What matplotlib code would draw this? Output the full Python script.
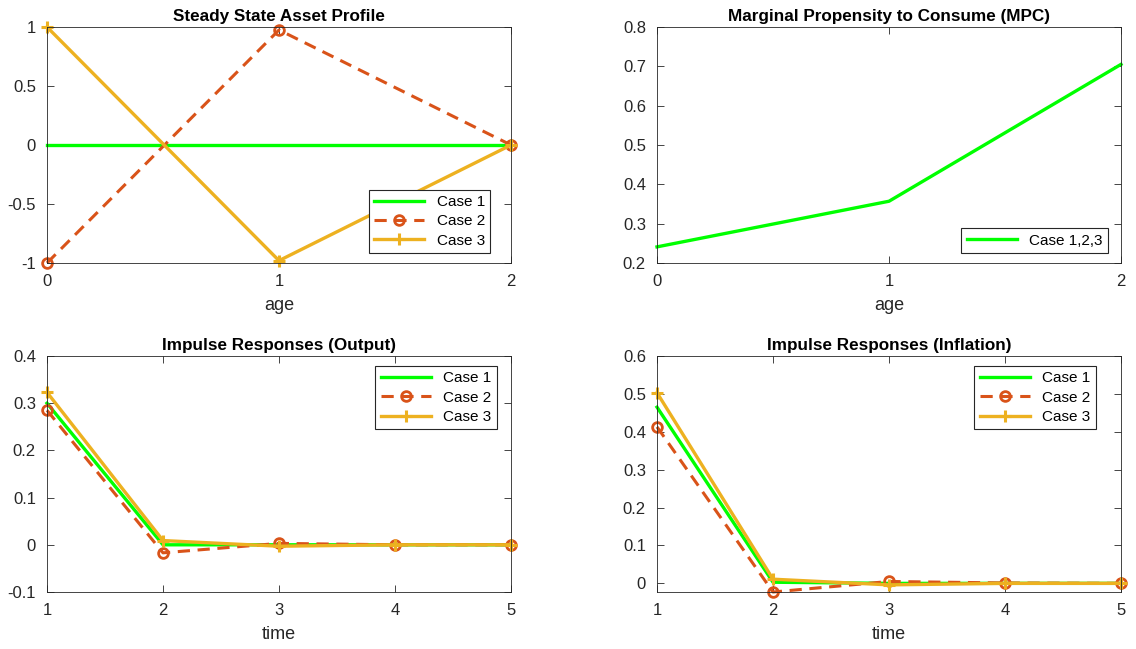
import matplotlib
matplotlib.use("Agg")
import matplotlib.pyplot as plt
import numpy as np

plt.rcParams['font.family'] = ['Liberation Sans', 'DejaVu Sans']

# ---------- DATA ----------
age = [0, 1, 2]
asset_case1 = [0.0, 0.0, 0.0]
asset_case2 = [-1.0, 0.975, 0.0]
asset_case3 = [1.0, -0.98, 0.0]

mpc = [0.241, 0.357, 0.705]

time = [1, 2, 3, 4, 5]
irf_y_case1 = [0.300, 0.000, 0.000, 0.000, 0.000]
irf_y_case2 = [0.285, -0.017, 0.003, 0.000, 0.000]
irf_y_case3 = [0.323, 0.009, -0.003, 0.000, 0.000]

irf_pi_case1 = [0.465, 0.003, 0.000, 0.000, 0.000]
irf_pi_case2 = [0.413, -0.0228, 0.005, 0.001, 0.000]
irf_pi_case3 = [0.503, 0.011, -0.004, 0.000, 0.000]

GREEN = "#00ff00"
ORANGE = "#d95319"
YELLOW = "#edb120"
AXCOL = "#262626"

W, H = 1136, 649
fig = plt.figure(figsize=(W / 100, H / 100), dpi=100)


def make_axes(x0, y0, x1, y1):
    # pixel box -> figure fraction
    return fig.add_axes([x0 / W, 1 - y1 / H, (x1 - x0) / W, (y1 - y0) / H])


def style(ax, title, xlabel=None):
    ax.set_title(title, fontsize=12.3, fontweight="bold", pad=4)
    if xlabel:
        ax.set_xlabel(xlabel, fontsize=13, color=AXCOL, labelpad=6)
    ax.tick_params(direction="in", top=True, right=True, length=5, width=0.6,
                   labelsize=12, colors=AXCOL, pad=8)
    for s in ax.spines.values():
        s.set_color(AXCOL)
        s.set_linewidth(0.6)


def legend(ax, labels_loc, anchor):
    leg = ax.legend(loc=labels_loc, bbox_to_anchor=anchor, borderaxespad=0,
                    fontsize=11, fancybox=False, framealpha=1,
                    edgecolor=AXCOL, handlelength=3.3, handletextpad=0.8,
                    labelspacing=0.35, borderpad=0.35)
    leg.get_frame().set_linewidth(0.8)


def three_cases(ax, x, c1, c2, c3, lbl1="Case 1"):
    ax.plot(x, c1, color=GREEN, lw=2.4, label=lbl1)
    ax.plot(x, c2, color=ORANGE, lw=2.2, ls=(0, (4, 2.5)), marker="o",
            ms=7, mfc="none", mew=2, label="Case 2")
    ax.plot(x, c3, color=YELLOW, lw=2.4, marker="+", ms=9, mew=2.2,
            label="Case 3")


# ---------- STEADY STATE ASSETS ----------
ax1 = make_axes(47, 27, 511, 263)
three_cases(ax1, age, asset_case1, asset_case2, asset_case3)
ax1.set_xlim(0, 2)
ax1.set_ylim(-1, 1)
ax1.set_xticks([0, 1, 2])
ax1.set_yticks([-1, -0.5, 0, 0.5, 1])
ax1.set_yticklabels(["-1", "-0.5", "0", "0.5", "1"])
style(ax1, "Steady State Asset Profile", "age")
legend(ax1, "lower right", (0.955, 0.042))

# ---------- MPC ----------
ax2 = make_axes(657, 27, 1121, 263)
ax2.plot(age, mpc, color=GREEN, lw=2.4, label="Case 1,2,3")
ax2.set_xlim(0, 2)
ax2.set_ylim(0.2, 0.8)
ax2.set_xticks([0, 1, 2])
ax2.set_yticks(np.arange(0.2, 0.81, 0.1))
ax2.set_yticklabels(["0.2", "0.3", "0.4", "0.5", "0.6", "0.7", "0.8"])
style(ax2, "Marginal Propensity to Consume (MPC)", "age")
legend(ax2, "lower right", (0.972, 0.042))

# ---------- IRF OUTPUT ----------
ax3 = make_axes(47, 356, 511, 592)
three_cases(ax3, time, irf_y_case1, irf_y_case2, irf_y_case3)
ax3.set_xlim(1, 5)
ax3.set_ylim(-0.1, 0.4)
ax3.set_xticks(time)
ax3.set_yticks([-0.1, 0, 0.1, 0.2, 0.3, 0.4])
ax3.set_yticklabels(["-0.1", "0", "0.1", "0.2", "0.3", "0.4"])
style(ax3, "Impulse Responses (Output)", "time")
legend(ax3, "upper right", (0.970, 0.958))

# ---------- IRF INFLATION ----------
ax4 = make_axes(657, 356, 1121, 592)
three_cases(ax4, time, irf_pi_case1, irf_pi_case2, irf_pi_case3)
ax4.set_xlim(1, 5)
ax4.set_ylim(min(irf_pi_case2), 0.6)
ax4.set_xticks(time)
ax4.set_yticks([0, 0.1, 0.2, 0.3, 0.4, 0.5, 0.6])
ax4.set_yticklabels(["0", "0.1", "0.2", "0.3", "0.4", "0.5", "0.6"])
style(ax4, "Impulse Responses (Inflation)", "time")
legend(ax4, "upper right", (0.946, 0.958))

for ax in (ax1, ax2, ax3, ax4):
    for ln in ax.get_lines():
        ln.set_clip_on(False)

fig.savefig("out.png", dpi=100)
